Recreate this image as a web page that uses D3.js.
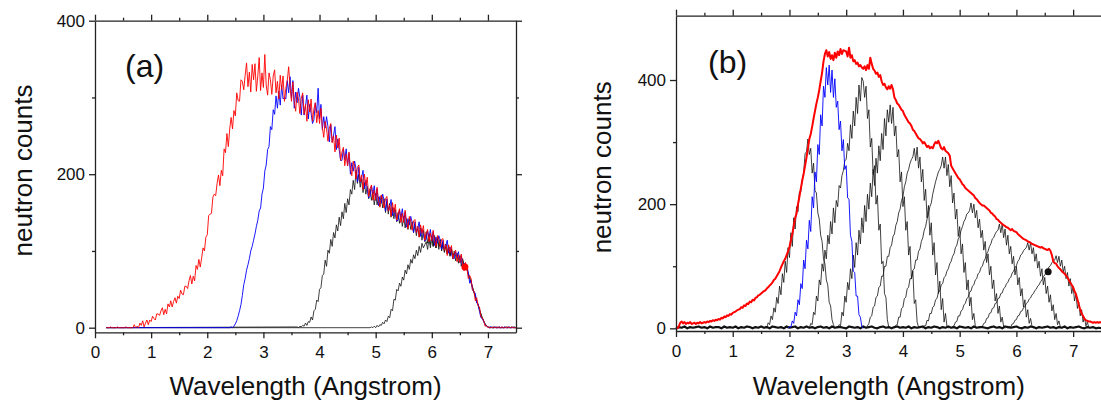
<!DOCTYPE html>
<html>
<head>
<meta charset="utf-8">
<script src="https://cdn.jsdelivr.net/npm/d3@7"></script>
<style>
  body { margin: 0; background: #fff; }
  svg { display: block; font-family: Arial, "Liberation Sans", sans-serif; }
  .domain, .tick line { stroke: #222; stroke-width: 1.3; }
  .tick text { font-family: Arial, "Liberation Sans", sans-serif; font-size: 17px; fill: #111; }
  .title { font-size: 26px; fill: #111; }
  .tag { font-size: 32px; fill: #111; }
</style>
</head>
<body>
<svg id="chart" width="1101" height="404"></svg>
<script>
// wavelength grid step (Angstrom) shared by every series
const STEP = 0.025;

// axis ticks
const xMajorTicks = [0, 1, 2, 3, 4, 5, 6, 7];
const xMinorTicks = [0.5, 1.5, 2.5, 3.5, 4.5, 5.5, 6.5, 7.5];
const yMajorTicks = [0, 200, 400];
const yMinorTicks = [100, 300];

// ---- panel (a) ----
const flatFromA = 0.2;

const redAStart = 0.2;
const redA = [
  0,0,0,1,0,0,0,0,1,0,0,0,0,0,1,0,0,0,0,0,
  4,0,2,0,6,3,9,1,6,10,4,10,8,15,12,10,18,18,16,22,
  26,17,24,18,31,27,35,27,34,39,32,41,38,49,44,43,54,54,51,61,
  68,57,67,61,81,76,89,79,91,104,100,118,121,146,148,149,170,174,172,188,
  199,185,205,198,233,228,253,236,259,274,259,283,276,306,296,295,323,321,310,329,
  345,314,333,307,343,323,344,308,328,352,309,332,313,356,316,303,332,323,304,328,
  336,306,321,298,329,310,328,295,312,322,340,313,295,320,295,282,307,298,279,299,
  306,278,291,269,297,281,298,269,285,293,267,283,266,286,261,248,269,259,243,260,
  266,241,250,229,251,234,247,218,229,235,211,226,211,229,209,198,217,210,194,209,
  212,190,199,180,200,185,196,171,181,186,166,179,166,183,166,157,173,167,156,168,
  171,152,160,145,163,150,161,140,149,155,137,149,137,153,138,129,145,139,127,139,
  141,124,132,118,134,123,133,114,123,128,112,123,113,127,113,106,120,115,105,115,
  116,101,108,94,108,98,107,90,97,101,86,95,85,96,82,74,85,78,64,68,
  64,49,48,35,39,28,27,14,13,9,2,3,0,1,0,0,1,0,0,1,
  0,0,1,0,0,0,1,0,0,1,0,0,0
];

const blueAStart = 2.4;
const blueA = [
  0,1,0,2,5,9,15,22,30,42,56,64,75,82,90,100,106,114,122,132,
  140,152,156,174,182,204,212,232,236,262,258,284,278,302,286,308,290,316,298,300,
  298,322,306,327,299,322,286,307,293,312,300,277,303,277,289,303,272,291,279,266,
  271,293,280,312,272,291,258,275,260,275,262,242,265,242,251,262,232,246,232,218,
  218,233,219,233,211,227,200,215,204,217,207,190,209,189,196,205,181,192,181,169,
  171,185,174,185,166,181,159,171,162,174,166,152,168,152,158,167,146,156,148,139,
  140,153,144,155,138,151,131,142,134,145,137,124,138,124,130,138,119,129,121,113,
  115,126,118,128,113,125,107,118,110,120,114,102,114,102,107,114,97,105,97,90,
  90,99,91,99,85,94,77,84,77,81,72,58,62,49,47,45,32,31,21,13,
  12,8,4,2,1,0,1,0,0,1,0,0,1,0,0,0,1,0,0,1,
  0,0,1,0,0
];

const blackA1Start = 3.6;
const blackA1 = [
  1,0,2,1,3,2,6,3,8,7,14,10,22,24,36,34,50,52,68,70,
  88,80,101,97,115,106,124,117,134,126,144,133,151,142,162,150,168,160,180,174,
  192,180,205,188,200,183,194,176,189,174,184,168,181,166,177,160,175,160,170,158,
  172,156,168,150,164,148,162,144,157,142,154,138,150,136,148,132,145,130,142,128,
  142,128,138,124,135,120,132,118,130,114,127,112,125,110,122,108,120,106,118,104,
  118,106,115,102,112,99,109,96,106,93,103,90,100,87,97,84,94,80,90,78,
  80,76,71,65,59,53,47,41,35,30,24,18,13,8,5,2,1,0,1,0,
  0,1,0,0,1,0,0,0,1,0,0,1,0,0,0,1,0
];

const blackA2Start = 4.9;
const blackA2 = [
  0,1,0,2,0,3,1,4,3,7,5,10,8,15,13,24,22,37,36,50,
  48,58,54,66,62,75,70,82,76,89,84,95,90,101,94,106,98,110,104,108,
  112,102,116,104,118,106,120,104,116,102,114,100,110,98,108,96,105,94,102,92,
  97,93,95,89,91,86,88,83,80,76,70,65,58,53,46,41,34,30,23,18,
  12,9,4,3,1,0,0,1,0,0,1,0,0,0,1,0,0,1,0,0,0,1,0,0,0
];

// marker dot in (a): [wavelength, counts]
const dotA = [6.59, 79];

// ---- panel (b) ----
const redBStart = 0;
const redB = [
  0,0,3,9,11,8,10,7,9,8,10,7,8,9,7,9,8,10,8,9,
  10,9,11,10,12,11,13,12,14,13,15,14,17,16,19,18,21,20,23,22,
  25,26,27,29,30,31,34,33,37,36,40,39,43,42,46,45,49,50,53,54,
  56,58,60,61,64,66,69,71,74,78,80,84,88,92,98,103,108,112,118,124,
  131,142,152,165,178,185,200,212,225,238,249,262,275,290,305,313,325,338,350,362,
  372,384,398,412,430,442,448,438,445,434,440,432,444,436,446,440,450,442,448,447,
  446,438,452,436,440,430,432,426,428,422,424,420,418,422,416,424,418,436,426,418,
  415,410,412,405,408,398,392,394,388,385,390,386,392,385,372,368,362,360,356,352,
  350,344,340,336,332,330,326,320,318,314,310,306,305,302,298,300,296,292,294,290,
  292,290,296,300,298,302,296,290,288,292,286,284,282,278,262,258,254,250,246,242,
  240,236,232,230,226,224,222,220,218,216,214,210,208,205,202,200,198,198,196,194,
  192,190,186,185,182,180,176,175,172,170,168,166,165,163,162,160,158,160,157,156,
  155,152,150,148,146,144,143,142,140,139,138,136,135,134,133,132,131,130,131,129,
  128,127,126,128,125,118,108,105,104,100,97,95,92,90,88,85,82,78,74,70,
  66,60,55,47,38,30,24,20,15,13,12,11,11,10,9,10,9,10,9,10,
  9
];

const blueBStart = 1.975;
const blueB = [
  0,3,2,12,8,26,20,46,38,72,64,110,96,142,128,174,156,212,194,252,
  236,296,280,344,326,390,372,420,392,424,380,416,372,402,356,366,320,334,286,304,
  256,262,210,208,150,140,92,90,52,52,22,18,3,0
];

// black single-chopper peaks in (b), each on the same grid from its start
const peakStartsB = [1.55, 2.35, 2.85, 3.35, 3.85, 4.35, 4.85, 5.35, 5.85];
const peakB1 = [
  0,3,1,9,6,20,14,33,26,50,40,68,54,88,74,108,90,130,114,154,
  132,178,160,196,188,220,220,240,250,282,284,305,
  280,290,250,266,222,218,186,176,150,140,112,104,78,70,42,36,14,6,0
];
const peakB2 = [
  0,8,6,26,22,52,44,78,70,104,92,126,112,150,136,172,152,194,170,206,
  196,230,226,246,254,270,272,298,286,328,306,350,326,372,346,392,366,404,398,
  372,390,338,352,292,306,248,262,200,214,158,168,104,108,56,50,14,2
];
const peakB3 = [
  0,6,4,26,20,52,42,74,62,96,80,118,98,138,118,158,136,178,154,198,
  172,216,192,234,212,256,230,274,250,294,270,314,288,338,310,352,332,360,
  330,356,310,326,276,288,236,252,196,212,158,172,118,132,80,92,40,46,10,2
];
const peakB4 = [
  0,4,8,18,20,34,36,50,52,66,68,84,84,100,100,116,116,130,134,148,
  152,166,172,186,192,206,212,228,236,250,256,266,272,276,290,270,
  292,258,276,236,256,206,224,178,198,150,170,118,138,86,106,56,76,30,48,10,24,4,0
];
const peakB5 = [
  0,5,6,18,18,32,34,48,50,64,66,80,80,94,96,110,110,124,128,140,
  146,158,164,176,184,196,202,216,226,236,244,252,256,262,276,258,
  276,246,264,228,246,202,218,176,192,148,164,120,136,90,106,62,78,36,50,14,24,4,0
];
const peakB6 = [
  0,4,4,13,12,24,24,34,36,46,48,58,60,70,72,82,84,92,96,104,
  108,116,120,130,134,144,148,158,164,172,176,184,186,190,202,186,
  200,178,190,162,176,146,158,126,140,106,120,86,100,64,78,44,56,24,36,10,18,3,0
];
const peakB7 = [
  0,3,4,10,11,20,20,28,30,38,40,48,50,58,60,68,70,78,80,88,
  90,98,100,108,112,120,124,132,136,144,146,152,156,158,168,154,
  168,146,160,134,150,120,132,104,116,86,100,70,82,52,64,34,46,18,30,8,16,3,0
];
const peakB8 = [
  0,3,3,8,9,16,17,24,25,32,33,40,41,48,49,56,57,64,66,72,
  74,80,82,89,92,98,101,108,111,118,120,125,128,130,138,126,
  138,120,130,108,120,97,108,84,96,70,82,56,68,42,54,28,38,14,24,6,12,2,0
];
const peakB9 = [
  0,3,2,7,8,13,14,20,21,27,28,33,35,40,42,47,49,54,56,61,
  63,68,70,75,78,83,86,91,94,99,101,106,108,110,117,106,
  116,100,110,90,100,80,90,68,80,56,68,44,56,32,42,20,30,10,18,4,10,2,0
];
const peaksB = [peakB1, peakB2, peakB3, peakB4, peakB5, peakB6, peakB7, peakB8, peakB9];

// noisy black floor of all the peaks in (b), every 0.05 A from 0
const baseStepB = 0.05;
const baselineB = [
  0,2,1,3,0,2,1,2,3,1, 2,0,3,1,2,2,0,3,1,2, 1,3,0,2,1,3,2,0,2,1,
  3,1,2,0,3,2,1,2,0,3, 1,2,3,0,2,1,3,1,2,0, 2,3,1,2,0,3,1,2,2,1,
  0,3,2,1,2,0,3,1,2,3, 1,0,2,3,1,2,0,2,3,1, 2,1,3,0,2,1,2,3,0,2,
  1,3,2,0,2,1,3,1,2,0, 3,2,1,2,0,3,1,2,2,1, 0,2,3,1,2,0,3,2,1,2,
  3,1,0,2,1,3,2,0,2,1, 2,3,1,2,0,2,1,3,0,2, 1,2,3,1,0,2,1,2,0,1,
  0
];

const dotB = [6.56, 91];

// ---------------------------------------------------------------

const svg = d3.select('#chart');

function toPoints(start, values, step, flatFrom) {
  const pts = values.map((v, i) => [start + i * step, v]);
  if (flatFrom !== undefined) pts.unshift([flatFrom, 0]);
  return pts;
}

function drawFrame(x, y) {
  const [left, right] = x.range();
  const [bottom, top] = y.range();
  const minorX = xMinorTicks.filter((d) => d < x.domain()[1]);

  // bottom, with labels
  svg.append('g')
    .attr('transform', `translate(0,${bottom})`)
    .call(d3.axisBottom(x).tickValues(xMajorTicks).tickSize(6).tickSizeOuter(0).tickPadding(8));
  svg.append('g')
    .attr('transform', `translate(0,${bottom})`)
    .call(d3.axisBottom(x).tickValues(minorX).tickSize(3).tickFormat(''))
    .select('.domain').remove();

  // top, no labels
  svg.append('g')
    .attr('transform', `translate(0,${top})`)
    .call(d3.axisTop(x).tickValues(xMajorTicks).tickSize(6).tickSizeOuter(0).tickFormat(''));
  svg.append('g')
    .attr('transform', `translate(0,${top})`)
    .call(d3.axisTop(x).tickValues(minorX).tickSize(3).tickFormat(''))
    .select('.domain').remove();

  // left, with labels
  svg.append('g')
    .attr('transform', `translate(${left},0)`)
    .call(d3.axisLeft(y).tickValues(yMajorTicks).tickSize(6).tickSizeOuter(0).tickPadding(4));
  svg.append('g')
    .attr('transform', `translate(${left},0)`)
    .call(d3.axisLeft(y).tickValues(yMinorTicks).tickSize(3).tickFormat(''))
    .select('.domain').remove();

  // right, no labels
  svg.append('g')
    .attr('transform', `translate(${right},0)`)
    .call(d3.axisRight(y).tickValues(yMajorTicks).tickSize(6).tickSizeOuter(0).tickFormat(''));
  svg.append('g')
    .attr('transform', `translate(${right},0)`)
    .call(d3.axisRight(y).tickValues(yMinorTicks).tickSize(3).tickFormat(''))
    .select('.domain').remove();
}

function drawLine(x, y, pts, color, width) {
  const line = d3.line().x((d) => x(d[0])).y((d) => y(d[1]));
  svg.append('path')
    .datum(pts)
    .attr('d', line)
    .attr('fill', 'none')
    .attr('stroke', color)
    .attr('stroke-width', width)
    .attr('stroke-linejoin', 'round');
}

function labels(x, y, tag, tagPos, yTitleX) {
  const [left, right] = x.range();
  const [bottom, top] = y.range();
  svg.append('text')
    .attr('class', 'title')
    .attr('x', (left + right) / 2)
    .attr('y', 395)
    .attr('text-anchor', 'middle')
    .text('Wavelength (Angstrom)');
  svg.append('text')
    .attr('class', 'title')
    .attr('transform', `translate(${yTitleX},${(top + bottom) / 2 - 6}) rotate(-90)`)
    .attr('text-anchor', 'middle')
    .text('neutron counts');
  svg.append('text')
    .attr('class', 'tag')
    .attr('x', tagPos[0])
    .attr('y', tagPos[1])
    .text(tag);
}

// panel (a)
const xA = d3.scaleLinear().domain([0, 7.5]).range([95, 516]);
const yA = d3.scaleLinear().domain([-6, 400]).range([332.3, 20.7]);

drawLine(xA, yA, toPoints(blackA2Start, blackA2, STEP, flatFromA), '#111', 0.8);
drawLine(xA, yA, toPoints(blackA1Start, blackA1, STEP, flatFromA), '#111', 0.8);
drawLine(xA, yA, toPoints(blueAStart, blueA, STEP, flatFromA), '#0000ff', 0.9);
drawLine(xA, yA, toPoints(redAStart, redA, STEP), '#ff0000', 0.9);
svg.append('circle')
  .attr('cx', xA(dotA[0]))
  .attr('cy', yA(dotA[1]))
  .attr('r', 3.5)
  .attr('fill', '#ff0000');

drawFrame(xA, yA);
labels(xA, yA, '(a)', [125, 77], 32);

// panel (b)
const xB = d3.scaleLinear().domain([0, 7.5]).range([676, 1101.5]);
const yB = d3.scaleLinear().domain([-4.3, 503.6]).range([331, 15.7]);

drawLine(xB, yB, toPoints(0, baselineB, baseStepB), '#111', 2.2);
peaksB.forEach((p, i) => {
  drawLine(xB, yB, toPoints(peakStartsB[i], p, STEP), '#111', 0.8);
});
drawLine(xB, yB, toPoints(blueBStart, blueB, STEP), '#0000ff', 0.9);
drawLine(xB, yB, toPoints(redBStart, redB, STEP), '#ff0000', 2);
svg.append('circle')
  .attr('cx', xB(dotB[0]))
  .attr('cy', yB(dotB[1]))
  .attr('r', 3.5)
  .attr('fill', '#111');

drawFrame(xB, yB);
labels(xB, yB, '(b)', [708, 73], 611);
</script>
</body>
</html>
